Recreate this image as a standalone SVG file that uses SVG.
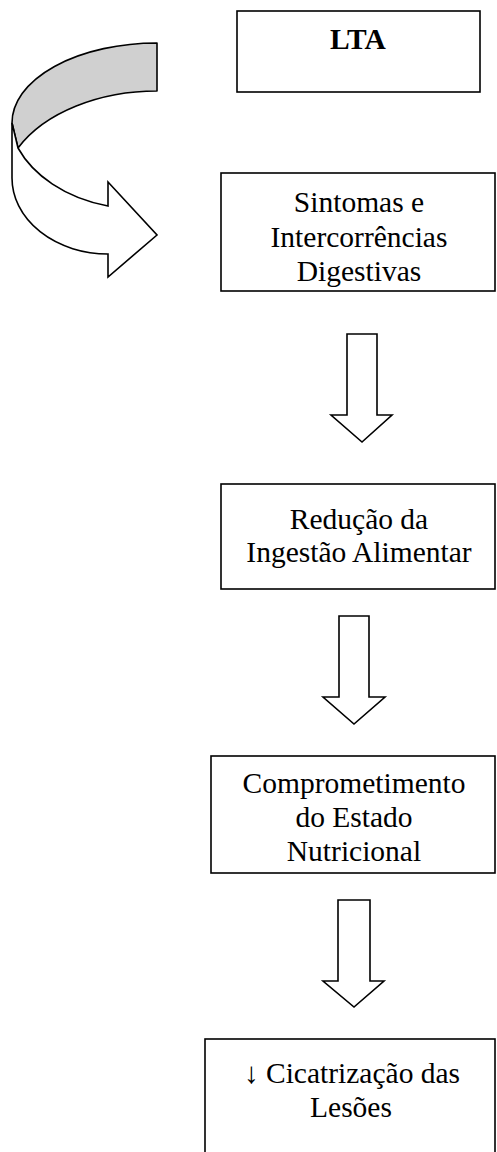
<svg xmlns="http://www.w3.org/2000/svg" width="497" height="1152" viewBox="0 0 497 1152">
<style>
.box{fill:#fff;stroke:#000;stroke-width:1.6}
.t{font-family:"Liberation Serif","Times New Roman",serif;font-size:29.5px;fill:#000;text-anchor:middle}
.b{font-weight:bold}
.arr{fill:#fff;stroke:#000;stroke-width:1.6;stroke-linejoin:miter}
</style>
<rect width="497" height="1152" fill="#fff"/>
<g id="connectors">
<g id="curved-arrow">
<path d="M157,43 A145,80 0 0 0 12,123 L18,148 C45,112 100,91 157,91 Z" fill="#d0d0d0" stroke="#000" stroke-width="1.6" stroke-linejoin="round"/>
<path d="M12,123 L12,178 A96,76 0 0 0 108,254 L108,277 L157,235 L108,182 L108,206 C65,198 33,175 18,148 Z" class="arr" stroke-linejoin="round"/>
</g>
<path id="arrow1" class="arr" d="M347,334 H377 V415 H392 L362,442 L331,415 H347 Z"/>
<path id="arrow2" class="arr" d="M339,616 H369 V697 H385 L354,724 L323,697 H339 Z"/>
<path id="arrow3" class="arr" d="M338,900 H370 V981 H384 L354,1007 L323,981 H338 Z"/>
</g>
<g id="node-lta">
<rect class="box" x="237" y="11" width="243" height="81"/>
<text class="t b" x="358" y="49">LTA</text>
</g>
<g id="node-sintomas">
<rect class="box" x="221" y="173" width="274" height="118"/>
<text class="t" x="359" y="212">Sintomas e</text>
<text class="t" x="359" y="246.5">Intercorrências</text>
<text class="t" x="359" y="281">Digestivas</text>
</g>
<g id="node-reducao">
<rect class="box" x="221" y="484" width="274" height="105"/>
<text class="t" x="359" y="529">Redução da</text>
<text class="t" x="359" y="562">Ingestão Alimentar</text>
</g>
<g id="node-comprometimento">
<rect class="box" x="211" y="756" width="284" height="117"/>
<text class="t" x="354" y="793">Comprometimento</text>
<text class="t" x="354" y="827">do Estado</text>
<text class="t" x="354" y="861">Nutricional</text>
</g>
<g id="node-cicatrizacao">
<rect class="box" x="205" y="1039" width="290" height="130"/>
<text class="t" x="352" y="1083">↓ Cicatrização das</text>
<text class="t" x="351" y="1117">Lesões</text>
</g>
</svg>
